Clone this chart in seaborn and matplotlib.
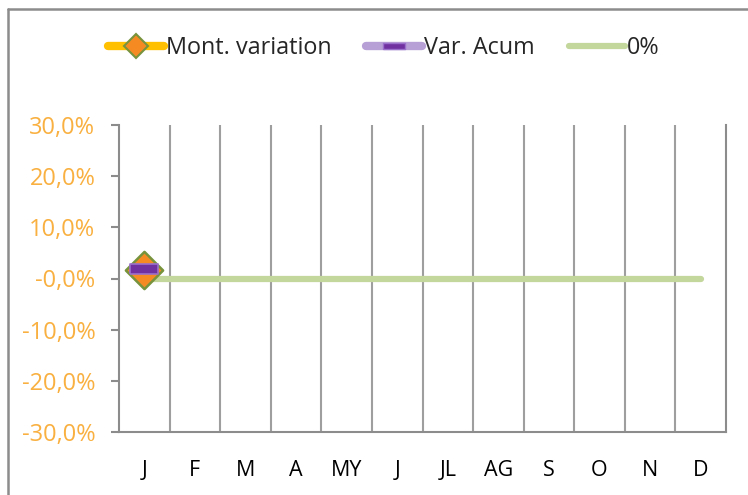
import matplotlib
matplotlib.use("Agg")
import matplotlib.pyplot as plt
from matplotlib.lines import Line2D
import seaborn as sns
import pandas as pd
import numpy as np

months = ["J", "F", "M", "A", "MY", "J", "JL", "AG", "S", "O", "N", "D"]
mont_variation = [1.7] + [np.nan] * 11
var_acum = [1.9] + [np.nan] * 11
zero_line = [0.0] * 12
y_ticks = [30, 20, 10, 0, -10, -20, -30]
y_tick_labels = ["30,0%", "20,0%", "10,0%", "-0,0%", "-10,0%", "-20,0%", "-30,0%"]

sns.set_theme(style="white")
plt.rcParams['font.family'] = ['Open Sans', 'DejaVu Sans']

df = pd.DataFrame({
    "x": np.arange(len(months)),
    "mont": mont_variation,
    "acum": var_acum,
    "zero": zero_line,
})

fig = plt.figure(figsize=(7.48, 4.95), dpi=100)
ax = fig.add_axes([119/748, 1-432/495, (726-119)/748, (432-125)/495])

green_c = "#C3D69B"
sns.lineplot(data=df, x="x", y="zero", ax=ax, color=green_c, linewidth=4.5,
             solid_capstyle="round", zorder=2)

diamond_face = "#F58A23"
diamond_edge = "#77933C"
rect_marker = [(-1.6, -0.5), (1.6, -0.5), (1.6, 0.5), (-1.6, 0.5), (-1.6, -0.5)]
sns.scatterplot(data=df, x="x", y="mont", ax=ax, marker="D", s=360,
                color=diamond_face, edgecolor=diamond_edge, linewidth=1.8, zorder=3)
sns.scatterplot(data=df, x="x", y="acum", ax=ax, marker=rect_marker, s=430,
                color="#7030A0", edgecolor="#9A6FCB", linewidth=1.2, zorder=4)

ax.set_xlim(-0.5, 11.5)
ax.set_ylim(-30, 30)
ax.set_xlabel("")
ax.set_ylabel("")

ax.set_xticks(np.arange(len(months)))
ax.set_xticklabels(months, fontsize=15.5, color="black")
ax.tick_params(axis="x", length=0, pad=20)

ax.set_yticks(y_ticks)
ax.set_yticklabels(y_tick_labels, fontsize=17, color="#F9B040")
ax.tick_params(axis="y", direction="out", length=6, width=1.5, color="#8C8C8C", pad=11, left=True)

for b in np.arange(0.5, 11.5, 1.0):
    ax.axvline(b, color="#9E9E9E", linewidth=1.5, zorder=1)

for side in ["left", "bottom", "right"]:
    ax.spines[side].set_visible(True)
    ax.spines[side].set_color("#8C8C8C")
    ax.spines[side].set_linewidth(1.5)
ax.spines["top"].set_visible(False)

handles = [
    Line2D([0], [0], color="#FFC000", lw=6, solid_capstyle="round", marker="D",
           markersize=12, markerfacecolor=diamond_face, markeredgecolor=diamond_edge,
           markeredgewidth=1.5),
    Line2D([0], [0], color="#B7A0D6", lw=6, solid_capstyle="round", marker=rect_marker,
           markersize=16, markerfacecolor="#7030A0", markeredgecolor="#9A6FCB",
           markeredgewidth=1),
    Line2D([0], [0], color=green_c, lw=4.5, solid_capstyle="round"),
]
fig.legend(handles, ["Mont. variation", "Var. Acum", "0%"], loc="center",
           bbox_to_anchor=(0.513, 1-48/495), ncol=3, frameon=False, fontsize=16.8,
           handlelength=2.4, handletextpad=0.1, columnspacing=1.45)

frame_c = "#8C8C8C"
fig.add_artist(Line2D([8/748, 1.0], [1-9/495, 1-9/495], color=frame_c, lw=1.8,
                      transform=fig.transFigure))
fig.add_artist(Line2D([8/748, 8/748], [0.0, 1-9/495], color=frame_c, lw=1.8,
                      transform=fig.transFigure))

fig.savefig("out.png", dpi=100)
